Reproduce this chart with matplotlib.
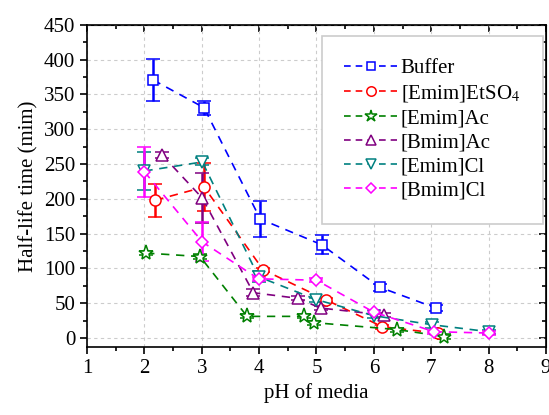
import numpy as np
import matplotlib.pyplot as plt
from matplotlib.lines import Line2D
from matplotlib.ticker import MultipleLocator, NullFormatter

plt.rcParams['font.family'] = 'Liberation Serif'
plt.rcParams['mathtext.fontset'] = 'stix'

# data
buffer_x = [2.15, 3.04, 4.02, 5.09, 6.10, 7.08]
buffer_y = [371, 331, 171, 134, 73, 43]
buffer_err = [30, 10, 26, 14, 5, 4]

etso4_x = [2.19, 3.04, 4.07, 5.16, 6.15, 7.11]
etso4_y = [198, 217, 98, 55, 16, 7]
etso4_err = [24, 34, 3, 3, 3, 3]

emimac_x = [2.03, 2.97, 3.79, 4.79, 4.96, 6.41, 7.22]
emimac_y = [122, 117, 31, 31, 22, 12, 2]
emimac_err = [3, 3, 3, 3, 3, 3, 3]

bmimac_x = [2.31, 3.01, 3.90, 4.67, 5.07, 6.17]
bmimac_y = [263, 201, 65, 57, 43, 33]
bmimac_err = [5, 36, 5, 3, 3, 3]

emimcl_x = [2.00, 3.01, 3.99, 5.00, 6.00, 7.01, 8.00]
emimcl_y = [240, 253, 88, 55, 32, 19, 9]
emimcl_err = [27, 5, 8, 3, 3, 4, 3]

bmimcl_x = [2.00, 3.01, 3.99, 5.00, 6.00, 7.05, 8.00]
bmimcl_y = [239, 138, 85, 83, 37, 9, 7]
bmimcl_err = [36, 28, 3, 3, 3, 3, 3]

series = [
    ('Buffer', buffer_x, buffer_y, buffer_err, '#0000FF', 's', 7),
    (r'[Emim]EtSO$_4$', etso4_x, etso4_y, etso4_err, '#FF0000', 'o', 8),
    ('[Emim]Ac', emimac_x, emimac_y, emimac_err, '#008000', '*', 11),
    ('[Bmim]Ac', bmimac_x, bmimac_y, bmimac_err, '#800080', '^', 8),
    ('[Emim]Cl', emimcl_x, emimcl_y, emimcl_err, '#008080', 'v', 8),
    ('[Bmim]Cl', bmimcl_x, bmimcl_y, bmimcl_err, '#FF00FF', 'D', 6.5),
]

fig = plt.figure(figsize=(5.49, 4.15), dpi=100)
ax = fig.add_axes([0.1585, 0.1639, 0.836, 0.776])

handles = []
for label, x, y, err, c, m, ms in series:
    ax.errorbar(x, y, yerr=err, color=c, ecolor=c, elinewidth=1.8, capsize=5,
                capthick=1.6, linestyle=(0, (5, 4)), linewidth=1.2,
                marker=m, markersize=ms, markerfacecolor='white',
                markeredgecolor=c, markeredgewidth=1.1)
    handles.append(Line2D([], [], color=c, linestyle=(0, (4, 3)), linewidth=1.2,
                          marker=m, markersize=ms * 0.85, markerfacecolor='white',
                          markeredgecolor=c, markeredgewidth=1.1, label=label))

ax.set_xlim(1, 9)
ax.set_ylim(-13, 450)
ax.xaxis.set_major_locator(MultipleLocator(1))
ax.xaxis.set_minor_locator(MultipleLocator(0.5))
ax.yaxis.set_major_locator(MultipleLocator(50))
ax.yaxis.set_minor_locator(MultipleLocator(25))
ax.grid(True, which='major', color='#cccccc', linestyle=(0, (3, 3)), linewidth=0.8)
ax.set_axisbelow(True)
ax.tick_params(which='both', direction='out', labelsize=15, width=1.2)
ax.tick_params(which='major', length=5)
ax.tick_params(which='minor', length=3)

# mirrored ticks pointing inward on top and right
top = ax.secondary_xaxis('top')
top.xaxis.set_major_locator(MultipleLocator(1))
top.xaxis.set_minor_locator(MultipleLocator(0.5))
top.xaxis.set_major_formatter(NullFormatter())
top.tick_params(which='both', direction='in', width=1.2)
top.tick_params(which='major', length=5)
top.tick_params(which='minor', length=3)
right = ax.secondary_yaxis('right')
right.yaxis.set_major_locator(MultipleLocator(50))
right.yaxis.set_minor_locator(MultipleLocator(25))
right.yaxis.set_major_formatter(NullFormatter())
right.tick_params(which='both', direction='in', width=1.2)
right.tick_params(which='major', length=5)
right.tick_params(which='minor', length=3)

for s in ax.spines.values():
    s.set_linewidth(1.2)

ax.set_xlabel('pH of media', fontsize=15)
ax.set_ylabel('Half-life time (mim)', fontsize=15)

leg = ax.legend(handles=handles, loc='upper right', bbox_to_anchor=(0.9935, 0.966),
                fontsize=15, frameon=True, fancybox=False, framealpha=1,
                handlelength=2.5, borderpad=1.1, labelspacing=0.22,
                handletextpad=0.2, borderaxespad=0)
leg.get_frame().set_edgecolor('#cccccc')
leg.get_frame().set_linewidth(1.2)

fig.savefig('out.png', dpi=100)
